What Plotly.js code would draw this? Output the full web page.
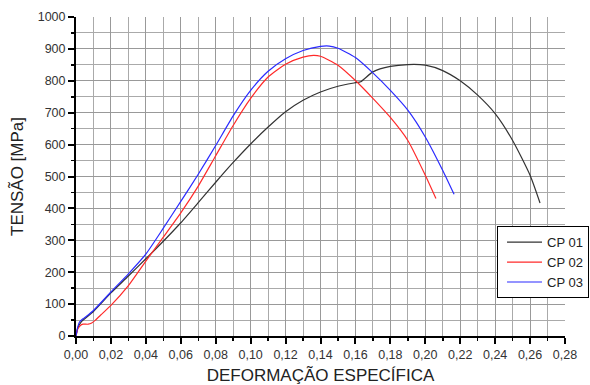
<!DOCTYPE html>
<html>
<head>
<meta charset="utf-8">
<script src="https://cdn.plot.ly/plotly-3.0.1.min.js"></script>
<style>html,body{margin:0;padding:0;background:#fff;}#chart{width:590px;height:385px;}</style>
</head>
<body>
<div id="chart"></div>
<script>
// CP 01 (black)
const cp01X = [0, 0.001, 0.003, 0.005, 0.01, 0.02, 0.03, 0.04, 0.05, 0.06, 0.07, 0.08, 0.09, 0.10, 0.11, 0.12, 0.13, 0.14, 0.15, 0.16, 0.163, 0.17, 0.18, 0.19, 0.20, 0.21, 0.22, 0.23, 0.24, 0.25, 0.26, 0.2657];
const cp01Y = [0, 25, 44, 54, 77, 135, 188, 242, 297, 355, 418, 482, 544, 602, 655, 703, 739, 765, 783, 794, 797, 828, 845, 851, 849, 832, 800, 755, 697, 613, 504, 417];
// CP 02 (red)
const cp02X = [0, 0.001, 0.0025, 0.004, 0.007, 0.009, 0.011, 0.014, 0.02, 0.03, 0.04, 0.05, 0.06, 0.07, 0.08, 0.09, 0.10, 0.11, 0.12, 0.13, 0.136, 0.14, 0.15, 0.16, 0.17, 0.18, 0.19, 0.20, 0.2061];
const cp02Y = [0, 22, 33, 37, 37, 41, 49, 65, 96, 158, 235, 310, 386, 470, 565, 660, 745, 812, 852, 874, 880, 877, 849, 801, 745, 685, 613, 504, 431];
// CP 03 (blue)
const cp03X = [0, 0.001, 0.002, 0.004, 0.006, 0.01, 0.02, 0.03, 0.04, 0.05, 0.06, 0.07, 0.08, 0.09, 0.10, 0.11, 0.12, 0.13, 0.14, 0.145, 0.15, 0.16, 0.17, 0.18, 0.19, 0.20, 0.21, 0.2165];
const cp03Y = [0, 28, 44, 54, 62, 80, 138, 195, 257, 338, 422, 507, 597, 690, 770, 830, 869, 895, 908, 909, 902, 873, 825, 770, 708, 624, 519, 444];

const seriesNames = ['CP 01', 'CP 02', 'CP 03'];
const seriesColors = ['#333333', '#ff2a2a', '#2a2aff'];

const traces = [[cp01X, cp01Y], [cp02X, cp02Y], [cp03X, cp03Y]].map((d, i) => ({
  x: d[0], y: d[1], type: 'scatter', mode: 'lines', name: seriesNames[i],
  line: {color: seriesColors[i], width: 1.2, shape: 'spline', smoothing: 0.6}
}));

const tickFont = {family: 'Arial, Liberation Sans, sans-serif', size: 12.5, color: '#333'};
const titleFont = {family: 'Arial, Liberation Sans, sans-serif', size: 17, color: '#222'};

const layout = {
  width: 590, height: 385,
  margin: {l: 76, r: 25, t: 17, b: 49, autoexpand: false},
  paper_bgcolor: '#fff', plot_bgcolor: '#fff',
  separators: ', ',
  showlegend: true,
  xaxis: {
    range: [0, 0.28], dtick: 0.02, tick0: 0, tickformat: '.2f',
    showgrid: true, gridcolor: '#999', gridwidth: 1, zeroline: false,
    showline: true, linecolor: '#000', linewidth: 2,
    ticks: 'outside', ticklen: 6, tickwidth: 2, tickcolor: '#000',
    minor: {dtick: 0.01, showgrid: true, gridcolor: '#aaa', gridwidth: 1, ticks: 'outside', ticklen: 3, tickwidth: 1.5, tickcolor: '#000'},
    tickfont: tickFont,
    title: {text: 'DEFORMAÇÃO ESPECÍFICA', font: titleFont, standoff: 8}
  },
  yaxis: {
    range: [0, 1000], dtick: 100, tick0: 0,
    showgrid: true, gridcolor: '#999', gridwidth: 1, zeroline: false,
    showline: true, linecolor: '#000', linewidth: 2,
    ticks: 'outside', ticklen: 6, tickwidth: 2, tickcolor: '#000',
    minor: {dtick: 50, showgrid: true, gridcolor: '#aaa', gridwidth: 1, ticks: 'outside', ticklen: 3, tickwidth: 1.5, tickcolor: '#000'},
    tickfont: tickFont,
    title: {text: 'TENSÃO [MPa]', font: titleFont, standoff: 10}
  },
  legend: {
    x: 0.861, y: 0.344, xanchor: 'left', yanchor: 'top',
    bgcolor: '#fff', bordercolor: '#000', borderwidth: 1,
    font: {family: 'Arial, Liberation Sans, sans-serif', size: 13, color: '#222'},
    tracegroupgap: 0, itemwidth: 35, indentation: 4
  }
};

Plotly.newPlot('chart', traces, layout, {staticPlot: true, displayModeBar: false});
</script>
</body>
</html>
